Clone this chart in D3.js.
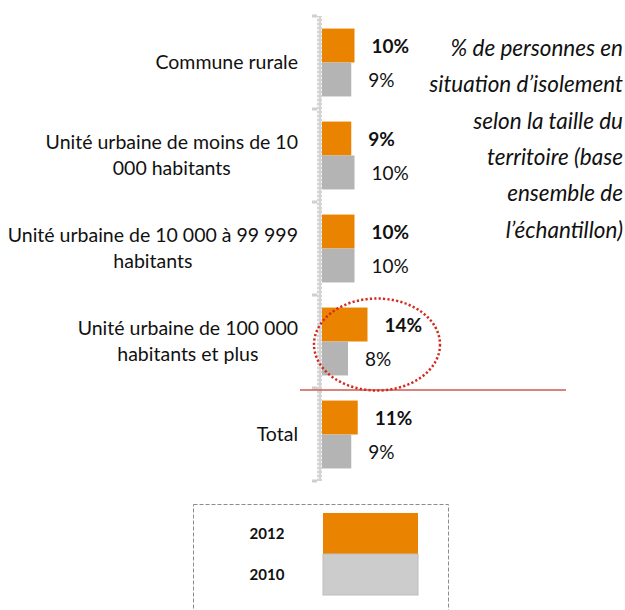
<!DOCTYPE html>
<html>
<head>
<meta charset="utf-8">
<script src="https://cdn.jsdelivr.net/npm/d3@7"></script>
<style>
  body { margin: 0; background: #fff; }
  svg text { font-family: Lato, "Liberation Sans", sans-serif; fill: #111; }
</style>
</head>
<body>
<div id="chart"></div>
<script>
// categories (label lines as wrapped in the original)
const categories = ["Commune rurale", "Moins de 10 000", "10 000 à 99 999", "100 000 et plus", "Total"];
const categoryLines = [
    ["Commune rurale"],
    ["Unité urbaine de moins de 10", "000 habitants"],
    ["Unité urbaine de 10 000 à 99 999", "habitants"],
    ["Unité urbaine de 100 000", "habitants et plus"],
    ["Total"]
];
const series = ["2012", "2010"];
const values2012 = [10, 9, 10, 14, 11];
const values2010 = [9, 10, 10, 8, 9];
const titleLines = [
    "% de personnes en",
    "situation d\u2019isolement",
    "selon la taille du",
    "territoire (base",
    "ensemble de",
    "l\u2019\u00e9chantillon)"
];

const width = 625, height = 610;
const colors = { "2012": "#ea8400", "2010": "#b4b4b4" };

const svg = d3.select("#chart")
    .append("svg")
    .attr("width", width)
    .attr("height", height);

// checkered texture for the axis line
const defs = svg.append("defs");
const pat = defs.append("pattern")
    .attr("id", "axisTex")
    .attr("width", 4).attr("height", 4)
    .attr("patternUnits", "userSpaceOnUse");
pat.append("rect").attr("width", 4).attr("height", 4).attr("fill", "#d4d4d4");
pat.append("rect").attr("x", 1).attr("y", 1).attr("width", 2).attr("height", 2).attr("fill", "#f2f2f2");

// scales
const y = d3.scaleBand()
    .domain(categories)
    .range([16, 481])
    .paddingInner(0.27)
    .paddingOuter(0.135);

const ySub = d3.scaleBand()
    .domain(series)
    .range([0, y.bandwidth()]);

const x = d3.scaleLinear()
    .domain([0, 20])
    .range([322, 387]);

// axis line with ticks between categories
svg.append("rect")
    .attr("x", 317).attr("y", 16)
    .attr("width", 5).attr("height", 465)
    .attr("fill", "url(#axisTex)");

const tickYs = d3.range(categories.length + 1).map(i => 16 + i * y.step());
svg.selectAll(".tick")
    .data(tickYs)
    .join("line")
    .attr("class", "tick")
    .attr("x1", 312).attr("x2", 317)
    .attr("y1", d => d).attr("y2", d => d)
    .attr("stroke", "#cfcfcf")
    .attr("stroke-width", 3);

// bars
const rows = categories.map((c, i) => ({ cat: c, lines: categoryLines[i], v2012: values2012[i], v2010: values2010[i] }));

const groups = svg.selectAll(".grp")
    .data(rows)
    .join("g")
    .attr("class", "grp")
    .attr("transform", d => `translate(0,${y(d.cat)})`);

groups.selectAll("rect")
    .data(d => series.map(s => ({ s, v: s === "2012" ? d.v2012 : d.v2010 })))
    .join("rect")
    .attr("x", x(0))
    .attr("y", d => ySub(d.s))
    .attr("width", d => x(d.v) - x(0))
    .attr("height", ySub.bandwidth())
    .attr("fill", d => colors[d.s]);

groups.selectAll(".val")
    .data(d => series.map(s => ({ s, v: s === "2012" ? d.v2012 : d.v2010 })))
    .join("text")
    .attr("class", "val")
    .attr("x", d => x(d.v) + 17)
    .attr("y", d => ySub(d.s) + ySub.bandwidth() / 2 + 1)
    .attr("dy", "0.35em")
    .attr("font-size", 19)
    .attr("font-weight", d => d.s === "2012" ? "bold" : "normal")
    .text(d => d.v + "%");

// category labels: longest line right-aligned, others centred on it
const labelRight = 298, lineH = 26;
groups.each(function(d) {
    const g = d3.select(this);
    const cy = y.bandwidth() / 2;
    const t = g.append("text").attr("font-size", 19.5).attr("text-anchor", "middle");
    const spans = d.lines.map((ln, i) => t.append("tspan")
        .attr("y", cy + (i - (d.lines.length - 1) / 2) * lineH)
        .attr("dy", "0.35em")
        .text(ln));
    const maxW = d3.max(spans, s => s.node().getComputedTextLength());
    spans.forEach(s => s.attr("x", labelRight - maxW / 2));
});

// title
svg.append("text")
    .attr("text-anchor", "end")
    .attr("font-size", 22.5)
    .attr("font-style", "italic")
    .selectAll("tspan")
    .data(titleLines)
    .join("tspan")
    .attr("x", 623)
    .attr("y", (d, i) => 56 + i * 36.3)
    .text(d => d);

// red separator before Total
svg.append("line")
    .attr("x1", 300).attr("x2", 566)
    .attr("y1", 390).attr("y2", 390)
    .attr("stroke", "#cd5a55")
    .attr("stroke-width", 1.5);

// dotted highlight ellipse around 100 000 et plus
svg.append("ellipse")
    .attr("cx", 377).attr("cy", y(categories[3]) + y.bandwidth() / 2 + 3)
    .attr("rx", 63).attr("ry", 46)
    .attr("fill", "none")
    .attr("stroke", "#d42a1e")
    .attr("stroke-width", 2.5)
    .attr("stroke-dasharray", "2.2 2.2");

// legend
const legend = svg.append("g");
legend.append("rect")
    .attr("x", 193.5).attr("y", 504.5)
    .attr("width", 255).attr("height", 130)
    .attr("fill", "none")
    .attr("stroke", "#8c8c8c")
    .attr("stroke-dasharray", "4 2");

const legColors = { "2012": "#ea8400", "2010": "#cccccc" };
series.forEach((s, i) => {
    legend.append("rect")
        .attr("x", 323).attr("y", 513 + i * 41)
        .attr("width", 95).attr("height", 41)
        .attr("fill", legColors[s])
        .attr("stroke", s === "2010" ? "#bdbdbd" : "none");
    legend.append("text")
        .attr("x", 267).attr("y", 533.5 + i * 41)
        .attr("dy", "0.35em")
        .attr("text-anchor", "middle")
        .attr("font-size", 15)
        .attr("font-weight", "bold")
        .text(s);
});
</script>
</body>
</html>
